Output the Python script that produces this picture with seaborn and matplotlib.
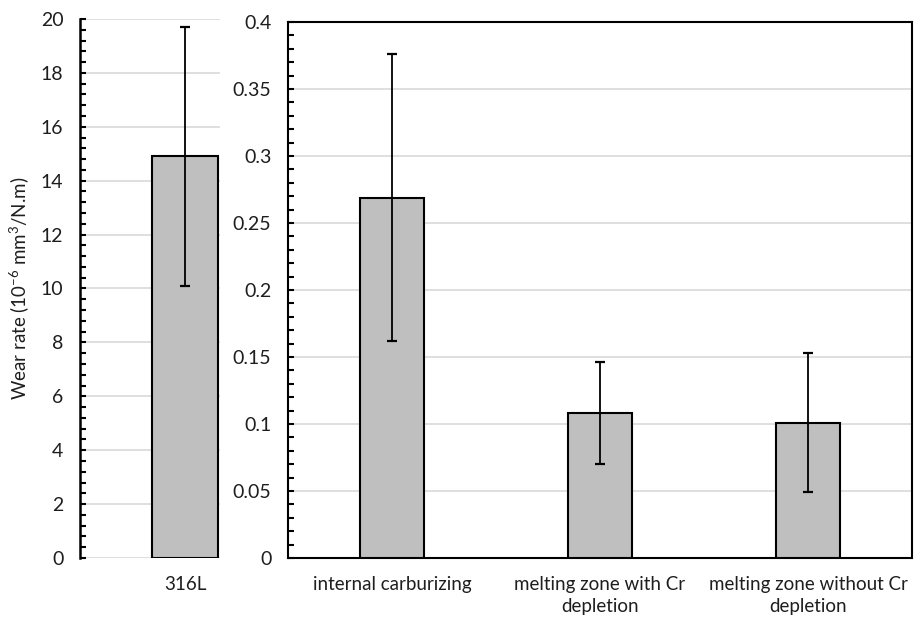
import pandas as pd
import seaborn as sns
import matplotlib.pyplot as plt
from matplotlib.ticker import MultipleLocator

# values
steel = ['316L']
steel_rate = [14.9]
steel_err = [4.8]

zones = ['internal carburizing', 'melting zone with Cr\ndepletion', 'melting zone without Cr\ndepletion']
zone_rate = [0.269, 0.108, 0.101]
zone_err = [0.107, 0.038, 0.052]

sns.set_theme(style='white')
plt.rcParams['font.family'] = ['Lato', 'DejaVu Sans']
plt.rcParams['mathtext.fontset'] = 'custom'
plt.rcParams['mathtext.rm'] = 'Lato'
plt.rcParams['mathtext.it'] = 'Lato:italic'

fig = plt.figure(figsize=(9.19, 6.18), dpi=100)
ax1 = fig.add_axes([0.087, 0.0971, 0.1523, 0.8722])
ax2 = fig.add_axes([0.3134, 0.0971, 0.679, 0.8673])

bar_color = '#bfbfbf'
grid_color = '#d9d9d9'
text_color = '#1e1e1e'

df1 = pd.DataFrame({'name': steel, 'rate': steel_rate})
df2 = pd.DataFrame({'name': zones, 'rate': zone_rate})

sns.barplot(data=df1, x='name', y='rate', ax=ax1, color=bar_color, edgecolor='black',
            linewidth=1.5, width=0.8, saturation=1, zorder=3)
sns.barplot(data=df2, x='name', y='rate', ax=ax2, color=bar_color, edgecolor='black',
            linewidth=1.5, width=0.31, saturation=1, zorder=3)

# error bars on top of the bars
for ax, vals, errs in [(ax1, steel_rate, steel_err), (ax2, zone_rate, zone_err)]:
    xs = [p.get_x() + p.get_width() / 2 for p in ax.patches]
    ax.errorbar(xs, vals, yerr=errs, fmt='none', ecolor='black', elinewidth=1.3,
                capsize=3.3, capthick=1.6, zorder=4)

# left panel
ax1.set_xlim(-1.27, 0.42)
ax1.set_ylim(0, 20)
ax1.yaxis.set_major_locator(MultipleLocator(2))
ax1.yaxis.set_minor_locator(MultipleLocator(0.4))
for s in ['top', 'right', 'bottom']:
    ax1.spines[s].set_visible(False)
ax1.spines['left'].set_color('black')
ax1.spines['left'].set_linewidth(1.8)

# right panel
ax2.set_xlim(-0.5, 2.5)
ax2.set_ylim(0, 0.4)
ax2.yaxis.set_minor_locator(MultipleLocator(0.01))
ax2.set_yticks([0, 0.05, 0.1, 0.15, 0.2, 0.25, 0.3, 0.35, 0.4])
ax2.set_yticklabels(['0', '0.05', '0.1', '0.15', '0.2', '0.25', '0.3', '0.35', '0.4'])
for s in ax2.spines.values():
    s.set_visible(True)
    s.set_color('black')
    s.set_linewidth(1.5)

for ax in (ax1, ax2):
    ax.set_facecolor('white')
    ax.yaxis.grid(True, color=grid_color, linewidth=1.2, zorder=0)
    ax.set_axisbelow(True)
    ax.tick_params(axis='y', which='both', direction='in', left=True, length=4,
                   width=1.5, color='black', labelsize=14, labelcolor=text_color, pad=12)
    ax.tick_params(axis='x', length=0, labelsize=13.5, labelcolor=text_color, pad=13)
    for lbl in ax.get_xticklabels():
        lbl.set_linespacing(1.35)
    ax.set_xlabel('')
    ax.set_ylabel('')

ax1.set_ylabel('Wear rate (10$^{-6}$ mm$^{3}$/N.m)', fontsize=13.5, color=text_color)
ax1.yaxis.set_label_coords(-0.35, 0.5)

fig.savefig('out.png', dpi=100, facecolor='white')
